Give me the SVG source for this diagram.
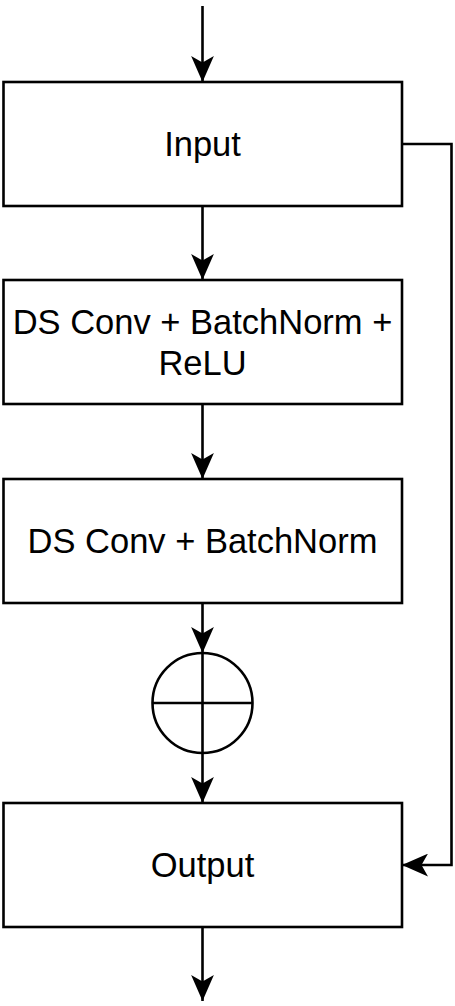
<svg xmlns="http://www.w3.org/2000/svg" width="455" height="1006" viewBox="0 0 455 1006">
  <style>
    .box { fill: #ffffff; stroke: #000000; stroke-width: 2.6; }
    .lbl { font-family: "Liberation Sans", Arial, sans-serif; font-size: 34.5px; fill: #000000; text-anchor: middle; }
    .edge { fill: none; stroke: #000000; stroke-width: 2.6; }
    .sum { fill: #ffffff; stroke: #000000; stroke-width: 2.6; }
  </style>
  <defs>
    <marker id="arrow" markerUnits="userSpaceOnUse" markerWidth="26" markerHeight="23" viewBox="0 0 24 21" refX="24" refY="10.5" orient="auto">
      <path d="M0,0 L24,10.5 L0,21 L6,10.5 Z" fill="#000000"/>
    </marker>
  </defs>
  <rect width="455" height="1006" fill="#ffffff"/>

  <g id="input">
    <rect class="box" x="3.5" y="82" width="398.5" height="124"/>
    <text class="lbl" x="202.5" y="156">Input</text>
  </g>
  <g id="dsconv-bn-relu">
    <rect class="box" x="3.5" y="280" width="398.5" height="124"/>
    <text class="lbl" x="202.5" y="333.5">DS Conv + BatchNorm +</text>
    <text class="lbl" x="202.5" y="375">ReLU</text>
  </g>
  <g id="dsconv-bn">
    <rect class="box" x="3.5" y="479" width="398.5" height="124"/>
    <text class="lbl" x="202.5" y="553">DS Conv + BatchNorm</text>
  </g>
  <g id="sum">
    <circle class="sum" cx="202.5" cy="703" r="50"/>
    <line class="edge" x1="152.5" y1="703" x2="252.5" y2="703"/>
    <line class="edge" x1="202.5" y1="653" x2="202.5" y2="753"/>
  </g>
  <g id="output">
    <rect class="box" x="3.5" y="803" width="398.5" height="124"/>
    <text class="lbl" x="202.5" y="877">Output</text>
  </g>

  <g id="connectors">
    <path class="edge" d="M202.5,6 L202.5,82" marker-end="url(#arrow)"/>
    <path class="edge" d="M202.5,206 L202.5,280" marker-end="url(#arrow)"/>
    <path class="edge" d="M202.5,404 L202.5,479" marker-end="url(#arrow)"/>
    <path class="edge" d="M202.5,603 L202.5,653" marker-end="url(#arrow)"/>
    <path class="edge" d="M202.5,753 L202.5,803" marker-end="url(#arrow)"/>
    <path class="edge" d="M202.5,927 L202.5,1001" marker-end="url(#arrow)"/>
    <path class="edge" d="M402,144 L451.5,144 L451.5,865 L402,865" marker-end="url(#arrow)"/>
  </g>
</svg>
